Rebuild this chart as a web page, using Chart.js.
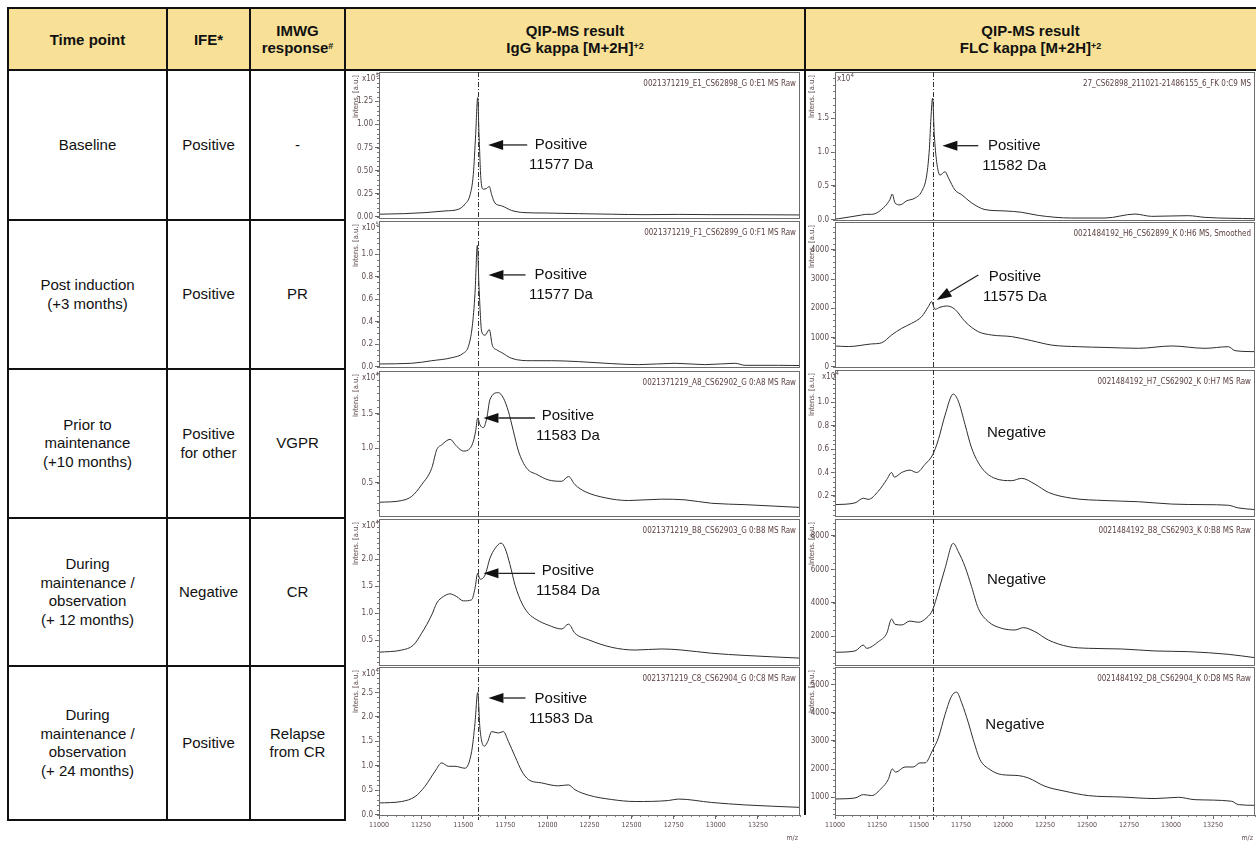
<!DOCTYPE html>
<html>
<head>
<meta charset="utf-8">
<script src="https://cdn.jsdelivr.net/npm/chart.js@4.4.1/dist/chart.umd.min.js"></script>
<style>
  body { margin: 0; background: #fff; }
  #page { position: relative; width: 1256px; height: 843px; overflow: hidden; font-family: "Liberation Sans", Arial, sans-serif; }
  .hd { position: absolute; background: #f8e196; }
  .txt { position: absolute; display: flex; align-items: center; justify-content: center; text-align: center; font-size: 15px; line-height: 18.5px; color: #111; }
  .txt span { white-space: pre-line; }
  .txt.b { font-weight: bold; line-height: 17px; }
  .ln { position: absolute; background: #111; }
  canvas { position: absolute; }
  sup { font-size: 9px; vertical-align: 4px; line-height: 0; }
</style>
</head>
<body>
<div id="page"></div>
<script>
// ---- table text ----
const headers = ["Time point", "IFE*", "IMWG\nresponse<sup>#</sup>",
  "QIP-MS result\nIgG kappa [M+2H]<sup>+2</sup>", "QIP-MS result\nFLC kappa [M+2H]<sup>+2</sup>"];
const timePoints = ["Baseline", "Post induction\n(+3 months)", "Prior to\nmaintenance\n(+10 months)",
  "During\nmaintenance /\nobservation\n(+ 12 months)", "During\nmaintenance /\nobservation\n(+ 24 months)"];
const ifeResults = ["Positive", "Positive", "Positive\nfor other", "Negative", "Positive"];
const imwgResponses = ["-", "PR", "VGPR", "CR", "Relapse\nfrom CR"];

const iggSamples = ["0021371219_E1_CS62898_G 0:E1 MS Raw", "0021371219_F1_CS62899_G 0:F1 MS Raw",
  "0021371219_A8_CS62902_G 0:A8 MS Raw", "0021371219_B8_CS62903_G 0:B8 MS Raw", "0021371219_C8_CS62904_G 0:C8 MS Raw"];
const flcSamples = ["27_CS62898_211021-21486155_6_FK 0:C9 MS", "0021484192_H6_CS62899_K 0:H6 MS, Smoothed",
  "0021484192_H7_CS62902_K 0:H7 MS Raw", "0021484192_B8_CS62903_K 0:B8 MS Raw", "0021484192_D8_CS62904_K 0:D8 MS Raw"];
const iggCalls = [["Positive", "11577 Da"], ["Positive", "11577 Da"], ["Positive", "11583 Da"], ["Positive", "11584 Da"], ["Positive", "11583 Da"]];
const flcCalls = [["Positive", "11582 Da"], ["Positive", "11575 Da"], ["Negative"], ["Negative"], ["Negative"]];

// ---- axis ticks ----
const mzTicks = [11000, 11250, 11500, 11750, 12000, 12250, 12500, 12750, 13000, 13250];
const iggTicks = [[0, 0.25, 0.5, 0.75, 1, 1.25], [0, 0.2, 0.4, 0.6, 0.8, 1.0], [0.5, 1.0, 1.5], [0.5, 1.0, 1.5, 2.0], [0, 0.5, 1.0, 1.5, 2.0, 2.5]];
const flcTicks = [[0, 0.5, 1.0, 1.5], [0, 1000, 2000, 3000, 4000], [0.2, 0.4, 0.6, 0.8, 1.0], [2000, 4000, 6000, 8000], [1000, 2000, 3000, 4000, 5000]];

// ---- spectra (m/z, intensity) ----
const igg1Mz = [11000,11150,11273,11392,11471,11511,11541,11560,11574,11586,11594,11606,11620,11640,11655,11669,11689,11729,11788,11867,11986,12184,12382,12580,12778,12976,13174,13500];
const igg1Int = [0.030,0.036,0.047,0.065,0.083,0.14,0.24,0.46,0.89,1.29,0.89,0.39,0.30,0.31,0.33,0.24,0.15,0.12,0.07,0.047,0.043,0.036,0.030,0.025,0.028,0.025,0.025,0.022];
const igg2Mz = [11000,11194,11313,11432,11501,11531,11554,11570,11584,11594,11610,11630,11655,11673,11699,11729,11788,11907,12026,12184,12382,12541,12758,12937,13115,13174,13372,13500];
const igg2Int = [0.024,0.030,0.053,0.080,0.12,0.18,0.36,0.65,1.08,0.71,0.31,0.28,0.33,0.19,0.15,0.125,0.074,0.053,0.053,0.045,0.027,0.018,0.030,0.018,0.030,0.012,0.012,0.010];
const igg3Mz = [11000,11135,11194,11253,11313,11343,11372,11422,11461,11501,11541,11560,11574,11586,11600,11620,11640,11659,11709,11739,11768,11798,11828,11877,11937,12006,12085,12125,12164,12224,12343,12481,12679,12818,12976,13174,13500];
const igg3Int = [0.214,0.24,0.30,0.47,0.71,0.98,1.05,1.13,1.03,0.96,1.00,1.10,1.25,1.44,1.34,1.30,1.44,1.71,1.81,1.73,1.54,1.25,0.96,0.71,0.62,0.54,0.52,0.59,0.47,0.37,0.28,0.24,0.26,0.25,0.20,0.18,0.14];
const igg4Mz = [11000,11135,11204,11253,11313,11343,11382,11422,11461,11501,11550,11570,11586,11600,11630,11659,11689,11725,11749,11778,11808,11848,11887,11937,12006,12085,12125,12164,12244,12382,12521,12679,12798,12976,13174,13500];
const igg4Int = [0.28,0.32,0.41,0.63,0.97,1.19,1.31,1.36,1.31,1.23,1.25,1.46,1.74,1.63,1.71,2.02,2.20,2.30,2.20,1.90,1.52,1.19,1.00,0.88,0.78,0.71,0.80,0.63,0.51,0.37,0.32,0.34,0.32,0.26,0.22,0.17];
const igg5Mz = [11000,11135,11214,11273,11333,11372,11412,11451,11511,11550,11570,11586,11600,11626,11646,11669,11709,11739,11768,11808,11848,11887,11966,12065,12125,12164,12244,12382,12521,12719,12778,12976,13174,13500];
const igg5Int = [0.24,0.27,0.37,0.58,0.89,1.06,0.99,0.99,0.95,1.29,1.87,2.50,1.74,1.40,1.50,1.70,1.67,1.70,1.50,1.19,0.89,0.72,0.65,0.59,0.61,0.51,0.40,0.31,0.27,0.29,0.32,0.25,0.20,0.15];

const flc1Mz = [11000,11020,11159,11188,11218,11298,11327,11341,11357,11387,11427,11476,11516,11546,11562,11571,11581,11591,11605,11625,11655,11675,11714,11754,11813,11893,12012,12111,12210,12409,12607,12786,12885,13103,13202,13500];
const flc1Int = [0.01,0.015,0.07,0.08,0.08,0.20,0.30,0.38,0.25,0.22,0.28,0.32,0.42,0.66,1.06,1.50,1.80,1.26,0.86,0.66,0.71,0.62,0.44,0.37,0.25,0.15,0.13,0.11,0.064,0.025,0.025,0.084,0.05,0.06,0.035,0.015];
const flc2Mz = [11000,11079,11218,11278,11337,11397,11456,11516,11556,11575,11595,11625,11665,11714,11774,11853,11933,12052,12171,12290,12448,12607,12806,13004,13202,13341,13381,13500];
const flc2Int = [710,690,780,820,1085,1315,1485,1715,2060,2230,1965,2035,2080,1965,1545,1200,1085,1030,890,740,685,660,630,710,630,685,550,515];
const flc3Mz = [11000,11119,11169,11198,11258,11308,11337,11353,11397,11446,11486,11536,11581,11615,11655,11704,11734,11774,11813,11873,11952,12052,12111,12190,12270,12409,12607,12806,13004,13202,13341,13401,13500];
const flc3Int = [0.125,0.14,0.18,0.17,0.24,0.34,0.40,0.36,0.40,0.42,0.40,0.47,0.55,0.68,0.89,1.07,1.01,0.81,0.61,0.44,0.35,0.33,0.35,0.30,0.23,0.18,0.16,0.15,0.13,0.125,0.12,0.097,0.083];
const flc4Mz = [11000,11119,11169,11188,11258,11308,11337,11357,11397,11446,11496,11546,11581,11615,11655,11704,11734,11774,11813,11853,11913,11992,12071,12121,12190,12270,12389,12508,12706,12905,13103,13341,13500];
const flc4Int = [1045,1125,1480,1285,1680,2180,3035,2720,2680,2915,2840,3115,3575,4670,6060,7560,7060,6165,4970,3675,2875,2480,2380,2520,2280,1780,1385,1285,1245,1125,1085,925,725];
const flc5Mz = [11000,11119,11169,11218,11278,11317,11341,11361,11417,11466,11506,11536,11581,11615,11655,11694,11724,11754,11794,11823,11863,11923,11992,12091,12151,12250,12369,12508,12706,12905,13044,13143,13361,13401,13500];
const flc5Int = [940,975,1095,1060,1330,1630,2005,1890,2075,2075,2220,2220,2670,3105,3935,4585,4730,4350,3640,3045,2340,1980,1805,1770,1685,1390,1215,1060,1010,955,1000,915,860,740,715];

const page = document.getElementById("page");
const ink = "#2e2e2e";
const axisInk = "#5e4b4b";
const narrow = '"Liberation Sans Narrow","DejaVu Sans Condensed",sans-serif';

function box(cls, l, t, w, h, html) {
  const d = document.createElement("div");
  d.className = cls;
  d.style.left = l + "px"; d.style.top = t + "px";
  d.style.width = w + "px"; d.style.height = h + "px";
  if (html !== undefined) d.innerHTML = "<span>" + html + "</span>";
  page.appendChild(d);
  return d;
}

// table frame
const colX = [8, 167, 250, 345, 805, 1256];
const rowY = [70, 220, 369, 518, 666, 820];
box("hd", 8, 8, 1248, 62);
for (let c = 0; c < 5; c++) box("txt b", colX[c], 8, colX[c + 1] - colX[c], 62, headers[c]);
const bodyCols = [timePoints, ifeResults, imwgResponses];
for (let c = 0; c < 3; c++)
  for (let r = 0; r < 5; r++)
    box("txt", colX[c], rowY[r], colX[c + 1] - colX[c], rowY[r + 1] - rowY[r], bodyCols[c][r]);
box("ln", 7, 7, 1249, 2);
box("ln", 7, 69, 1249, 2);
for (let r = 1; r < 6; r++) box("ln", 7, rowY[r] - 1, 339, 2);
[8, 167, 250, 345].forEach(x => box("ln", x - 1, 7, 2, 814));
box("ln", 804, 7, 2, 808);

// ---- decorations drawn on every panel ----
const decor = {
  id: "decor",
  afterDraw(chart, args, o) {
    const { ctx, chartArea: a, scales: { x, y } } = chart;
    ctx.save();
    ctx.strokeStyle = "#6d6d6d"; ctx.lineWidth = 1;
    ctx.strokeRect(a.left + 0.5, a.top + 0.5, a.right - a.left - 1, a.bottom - a.top);
    // minor ticks
    ctx.strokeStyle = "#777";
    ctx.beginPath();
    for (let v = Math.ceil(y.min / o.minor) * o.minor; v <= y.max; v += o.minor) {
      const py = Math.round(y.getPixelForValue(v)) + 0.5;
      ctx.moveTo(a.left - 2, py); ctx.lineTo(a.left, py);
    }
    if (o.showX) {
      for (let v = 11000; v <= 13500; v += 50) {
        const px = Math.round(x.getPixelForValue(v)) + 0.5;
        ctx.moveTo(px, a.bottom); ctx.lineTo(px, a.bottom + 2);
      }
    }
    ctx.stroke();
    // dash-dot marker line
    const mx = Math.round(x.getPixelForValue(o.mark)) + 0.5;
    ctx.strokeStyle = "#333"; ctx.setLineDash([5, 2, 1, 2]);
    ctx.beginPath(); ctx.moveTo(mx, a.top); ctx.lineTo(mx, a.bottom + (o.showX ? 5 : 0)); ctx.stroke();
    ctx.setLineDash([]);
    // sample name
    ctx.fillStyle = "#5a3e3e"; ctx.font = "8px " + narrow;
    ctx.textAlign = "right"; ctx.textBaseline = "middle";
    ctx.fillText(o.sample, a.right - 4, a.top + 12);
    // exponent
    if (o.exp) {
      ctx.fillStyle = axisInk; ctx.textAlign = "left"; ctx.textBaseline = "alphabetic";
      ctx.font = "8px " + narrow;
      const ex = a.left + o.expDx;
      ctx.fillText("x10", ex, a.top + 9);
      const w = ctx.measureText("x10").width;
      ctx.font = "6px " + narrow;
      ctx.fillText(o.exp, ex + w, a.top + 5);
    }
    // y title
    ctx.save();
    ctx.translate(a.left - 23, a.top + 3);
    ctx.rotate(-Math.PI / 2);
    ctx.fillStyle = axisInk; ctx.font = "7.5px " + narrow;
    ctx.textAlign = "right"; ctx.textBaseline = "middle";
    ctx.fillText("Intens. [a.u.]", 0, 0);
    ctx.restore();
    // annotation
    const n = o.note;
    if (n.tip) {
      const tx = x.getPixelForValue(n.tip[0]), ty = y.getPixelForValue(n.tip[1]);
      const sx = x.getPixelForValue(n.tail[0]), sy = y.getPixelForValue(n.tail[1]);
      const ang = Math.atan2(ty - sy, tx - sx);
      const head = 15, hw = 5;
      const bx = tx - head * Math.cos(ang), by = ty - head * Math.sin(ang);
      ctx.strokeStyle = "#222"; ctx.fillStyle = "#111"; ctx.lineWidth = 1.3;
      ctx.beginPath(); ctx.moveTo(sx, sy); ctx.lineTo(bx, by); ctx.stroke();
      ctx.beginPath(); ctx.moveTo(tx, ty);
      ctx.lineTo(bx + hw * Math.sin(ang), by - hw * Math.cos(ang));
      ctx.lineTo(bx - hw * Math.sin(ang), by + hw * Math.cos(ang));
      ctx.closePath(); ctx.fill();
    }
    ctx.fillStyle = "#111"; ctx.font = '15px "Liberation Sans", Arial, sans-serif';
    ctx.textAlign = "center"; ctx.textBaseline = "middle";
    const cx = x.getPixelForValue(n.at[0]), cy = y.getPixelForValue(n.at[1]);
    n.lines.forEach((t, k) => ctx.fillText(t, cx, cy + k * 20));
    if (o.showX) {
      ctx.fillStyle = axisInk; ctx.font = "7px " + narrow; ctx.textAlign = "right";
      ctx.fillText("m/z", a.right - 2, chart.height - 5);
    }
    ctx.restore();
  }
};

function panel(p, r, col) {
  const c = document.createElement("canvas");
  const showX = r === 4;
  const top = col.areas[r][0], bot = col.areas[r][1];
  const extra = showX ? 0 : 6; // room so the lowest tick label is not cut
  c.width = col.w; c.height = showX ? 843 - top : bot - top + extra;
  c.style.left = col.left + "px"; c.style.top = top + "px";
  page.appendChild(c);
  new Chart(c, {
    type: "line",
    data: { datasets: [{ data: p.mz.map((m, k) => ({ x: m, y: p.y[k] })), borderColor: ink, borderWidth: 1,
      pointRadius: 0, cubicInterpolationMode: "monotone", fill: false }] },
    options: {
      responsive: false, animation: false, devicePixelRatio: 1,
      layout: { padding: { left: 0, right: col.padR, top: 0, bottom: extra } },
      plugins: { legend: { display: false }, tooltip: { enabled: false },
        decor: { minor: p.minor, showX, mark: col.mark, sample: col.samples[r], exp: p.exp, expDx: p.expDx,
          note: Object.assign({ lines: col.calls[r] }, p.note) } },
      scales: {
        x: { type: "linear", min: 11000, max: 13500, display: showX,
          afterBuildTicks: s => { s.ticks = mzTicks.map(v => ({ value: v })); },
          afterFit: s => { if (showX) { s.height = 28; s.paddingLeft = 0; s.paddingRight = 0; } else { s.height = 0; } },
          ticks: { color: axisInk, font: { size: 7, family: narrow }, padding: 2, maxRotation: 0, autoSkip: false, callback: v => String(v) },
          grid: { drawOnChartArea: false, tickLength: 4, color: "#666" },
          border: { display: true, color: "#666" } },
        y: { type: "linear", min: p.min, max: p.max,
          afterBuildTicks: s => { s.ticks = p.ticks.map(v => ({ value: v })); },
          afterFit: s => { s.width = col.axisW; s.paddingTop = 0; s.paddingBottom = 0; },
          ticks: { color: axisInk, font: { size: 8, family: narrow }, padding: 2, callback: v => v.toFixed(p.dec) },
          grid: { drawOnChartArea: false, tickLength: 4, color: "#666" },
          border: { display: true, color: "#666" } }
      }
    },
    plugins: [decor]
  });
}

const iggCol = { left: 345, w: 460, axisW: 34, padR: 5, mark: 11585, samples: iggSamples, calls: iggCalls,
  areas: [[72, 218], [221, 367], [371, 516], [519, 665], [667, 815]] };
const flcCol = { left: 805, w: 451, axisW: 30, padR: 1, mark: 11581, samples: flcSamples, calls: flcCalls,
  areas: [[72, 220], [222, 367], [370, 516], [519, 665], [667, 815]] };

const iggPanels = [
  { mz: igg1Mz, y: igg1Int, min: -0.011, max: 1.566, ticks: iggTicks[0], dec: 2, minor: 0.05, exp: "5", expDx: -17,
    note: { at: [12081, 0.778], tip: [11648, 0.778], tail: [11880, 0.778] } },
  { mz: igg2Mz, y: igg2Int, min: -0.003, max: 1.297, ticks: iggTicks[1], dec: 1, minor: 0.05, exp: "5", expDx: -17,
    note: { at: [12080, 0.817], tip: [11650, 0.817], tail: [11870, 0.817] } },
  { mz: igg3Mz, y: igg3Int, min: 0.015, max: 2.125, ticks: iggTicks[2], dec: 1, minor: 0.1, exp: "4", expDx: -17,
    note: { at: [12122, 1.466], tip: [11620, 1.441], tail: [11927, 1.441] } },
  { mz: igg4Mz, y: igg4Int, min: 0.043, max: 2.746, ticks: iggTicks[3], dec: 1, minor: 0.1, exp: "4", expDx: -17,
    note: { at: [12122, 1.783], tip: [11620, 1.74], tail: [11927, 1.74] } },
  { mz: igg5Mz, y: igg5Int, min: -0.006, max: 3.02, ticks: iggTicks[4], dec: 1, minor: 0.1, exp: "4", expDx: -17,
    note: { at: [12080, 2.366], tip: [11650, 2.386], tail: [11870, 2.386] } }
];
const flcPanels = [
  { mz: flc1Mz, y: flc1Int, min: -0.004, max: 2.185, ticks: flcTicks[0], dec: 1, minor: 0.1, exp: "4", expDx: 2,
    note: { at: [12067, 1.095], tip: [11639, 1.095], tail: [11853, 1.095] } },
  { mz: flc2Mz, y: flc2Int, min: -10, max: 4955, ticks: flcTicks[1], dec: 0, minor: 200,
    note: { at: [12071, 3083], tip: [11605, 2284], tail: [11853, 3140] } },
  { mz: flc3Mz, y: flc3Int, min: 0.028, max: 1.276, ticks: flcTicks[2], dec: 1, minor: 0.04, exp: "4", expDx: -13,
    note: { at: [12081, 0.738] } },
  { mz: flc4Mz, y: flc4Int, min: 287, max: 9014, ticks: flcTicks[3], dec: 0, minor: 400,
    note: { at: [12081, 5368] } },
  { mz: flc5Mz, y: flc5Int, min: 372, max: 5620, ticks: flcTicks[4], dec: 0, minor: 200,
    note: { at: [12071, 3574] } }
];

iggPanels.forEach((p, r) => panel(p, r, iggCol));
flcPanels.forEach((p, r) => panel(p, r, flcCol));
</script>
</body>
</html>
